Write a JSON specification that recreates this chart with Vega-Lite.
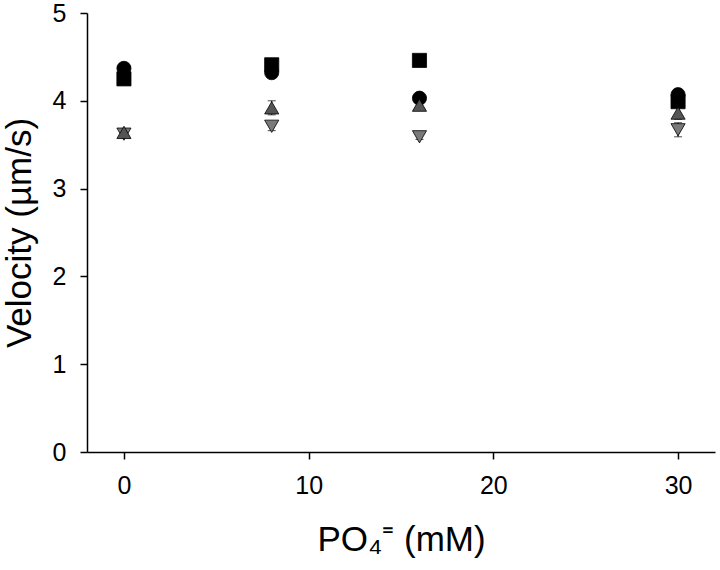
{
  "$schema": "https://vega.github.io/schema/vega-lite/v6.json",
  "width": 628,
  "height": 439,
  "autosize": "none",
  "padding": {"left": 87, "top": 13, "right": 5, "bottom": 118},
  "background": "white",
  "config": {
    "view": {"stroke": null},
    "font": "Liberation Sans",
    "axis": {
      "grid": false,
      "domainColor": "black",
      "domainWidth": 1.5,
      "tickColor": "black",
      "tickWidth": 1.5,
      "tickSize": 7,
      "labelColor": "black",
      "titleColor": "black",
      "labelFont": "Liberation Sans",
      "titleFont": "Liberation Sans",
      "labelFontSize": 25,
      "titleFontSize": 35,
      "titleFontWeight": "normal"
    }
  },
  "data": {
    "values": [
      {"x": 0, "series": "B", "v": 4.25, "lo": 4.22, "hi": 4.28},
      {"x": 8, "series": "B", "v": 4.41, "lo": 4.38, "hi": 4.44},
      {"x": 16, "series": "B", "v": 4.46, "lo": 4.43, "hi": 4.49},
      {"x": 30, "series": "B", "v": 3.99, "lo": 3.96, "hi": 4.02},
      {"x": 0, "series": "A", "v": 4.37, "lo": 4.34, "hi": 4.4},
      {"x": 8, "series": "A", "v": 4.32, "lo": 4.29, "hi": 4.35},
      {"x": 16, "series": "A", "v": 4.03, "lo": 4.0, "hi": 4.06},
      {"x": 30, "series": "A", "v": 4.07, "lo": 4.04, "hi": 4.1},
      {"x": 0, "series": "D", "v": 3.62, "lo": 3.59, "hi": 3.65},
      {"x": 8, "series": "D", "v": 3.71, "lo": 3.66, "hi": 3.76},
      {"x": 16, "series": "D", "v": 3.59, "lo": 3.56, "hi": 3.62},
      {"x": 30, "series": "D", "v": 3.67, "lo": 3.59, "hi": 3.75},
      {"x": 0, "series": "C", "v": 3.64, "lo": 3.61, "hi": 3.67},
      {"x": 8, "series": "C", "v": 3.92, "lo": 3.84, "hi": 4.0},
      {"x": 16, "series": "C", "v": 3.95, "lo": 3.92, "hi": 3.98},
      {"x": 30, "series": "C", "v": 3.86, "lo": 3.79, "hi": 3.93}
    ]
  },
  "layer": [
    {
      "mark": {"type": "errorbar", "ticks": {"size": 8, "color": "black"}, "rule": {"color": "black"}, "thickness": 1},
      "encoding": {
        "x": {"field": "x", "type": "quantitative", "title": "PO₄⁼ (mM)"},
        "y": {"field": "lo", "type": "quantitative", "title": "Velocity (µm/s)"},
        "y2": {"field": "hi"}
      }
    },
    {
      "mark": {"type": "point", "filled": true, "size": 200, "stroke": "black", "strokeWidth": 0.8, "opacity": 1},
      "encoding": {
        "x": {
          "field": "x", "type": "quantitative",
          "scale": {"domain": [-2, 32], "nice": false, "zero": false},
          "axis": {"values": [0, 10, 20, 30], "format": "d", "labelPadding": 14, "title": "PO₄⁼ (mM)", "titlePadding": 24}
        },
        "y": {
          "field": "v", "type": "quantitative",
          "scale": {"domain": [0, 5], "nice": false},
          "axis": {"values": [0, 1, 2, 3, 4, 5], "format": "d", "labelPadding": 14, "title": "Velocity (µm/s)", "titlePadding": 15}
        },
        "shape": {
          "field": "series", "type": "nominal",
          "scale": {"domain": ["A", "B", "C", "D"], "range": ["circle", "square", "triangle-up", "triangle-down"]},
          "legend": null
        },
        "fill": {
          "field": "series", "type": "nominal",
          "scale": {"domain": ["A", "B", "C", "D"], "range": ["#000000", "#000000", "#555555", "#7a7a7a"]},
          "legend": null
        },
        "order": {"value": 0}
      }
    }
  ]
}
